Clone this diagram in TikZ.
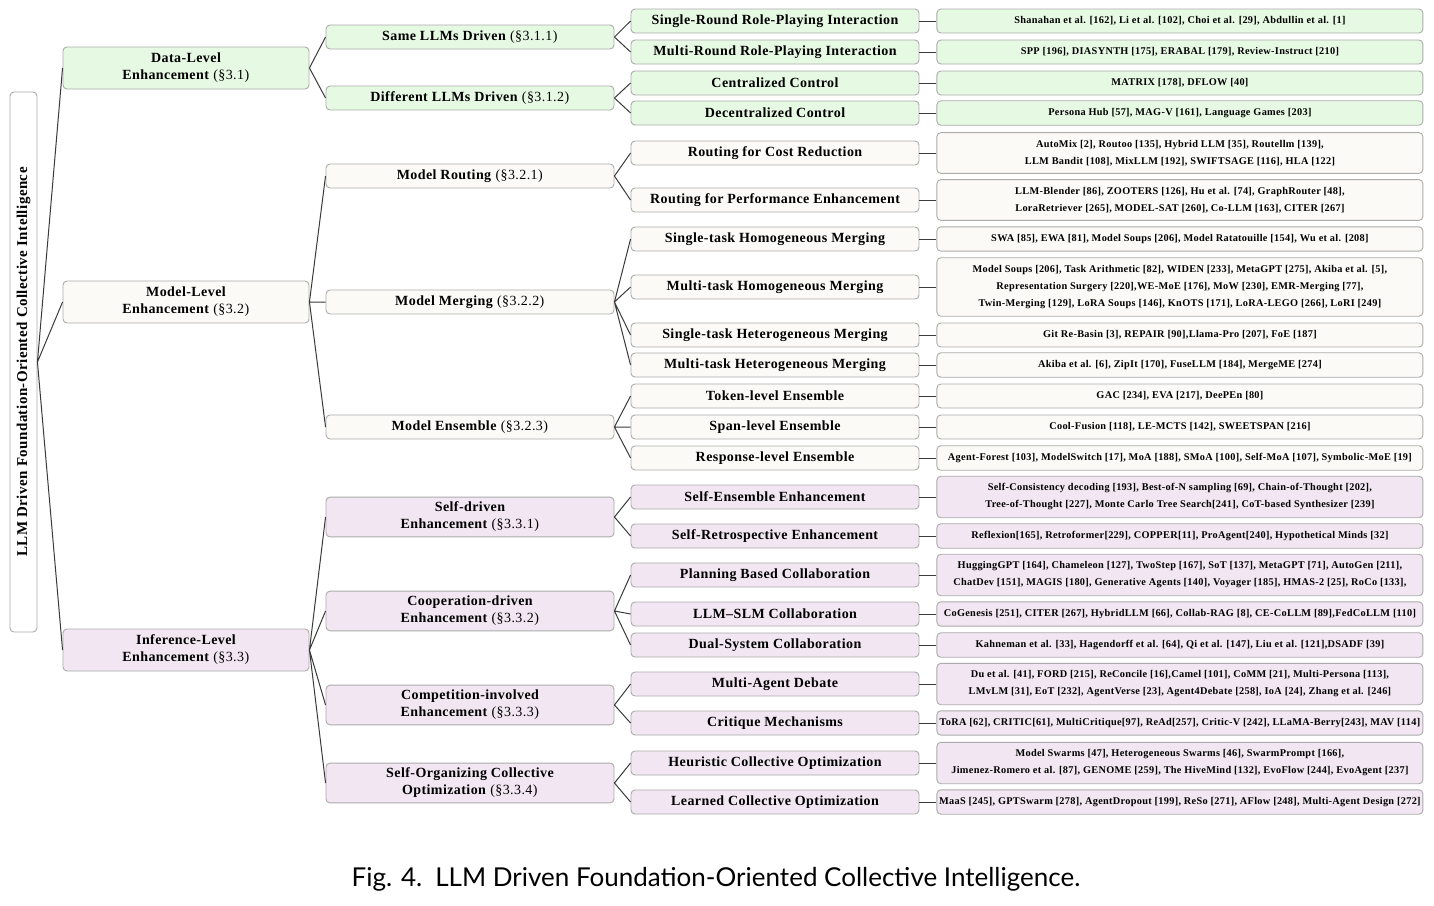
\documentclass[tikz,border=0pt]{standalone}
\usepackage{fontspec}
\setmainfont{Liberation Serif}[LetterSpace=3]
\newfontfamily\capfont{Lato}
\usepackage{graphicx}
\usepackage{tikz}
\usetikzlibrary{positioning}
\definecolor{datagreen}{HTML}{E6F9E3}
\definecolor{modelgray}{HTML}{FCFAF7}
\definecolor{infpurple}{HTML}{F1E6F1}
\definecolor{framegray}{HTML}{ABABAB}
\definecolor{linkgray}{HTML}{3A3A3A}
\newcommand{\secnum}[1]{\textmd{(\S#1)}}

\begin{document}
\begin{tikzpicture}[
      x=1pt, y=-1pt,
      node distance=17pt,
      base/.style={rectangle, rounded corners=4pt, draw=framegray, line width=0.9pt,
                   align=center, inner xsep=2pt, inner ysep=6pt},
      rootbox/.style={base, fill=white, minimum width=27pt, minimum height=540pt,
                      font=\fontsize{15}{17}\selectfont\bfseries},
      lvone/.style={base, minimum width=246pt, minimum height=42pt,
                    font=\fontsize{14}{17}\selectfont\bfseries},
      lvtwo/.style={base, minimum width=288pt, minimum height=24pt, inner ysep=5pt,
                    font=\fontsize{14}{17}\selectfont\bfseries},
      leaf/.style={base, minimum width=486pt, minimum height=24pt, inner ysep=7.5pt,
                   font=\fontsize{10.3}{17}\selectfont\bfseries},
      green/.style={fill=datagreen},
      plain/.style={fill=modelgray},
      purple/.style={fill=infpurple},
      link/.style={draw=linkgray, line width=1pt}
    ]
      \useasboundingbox (0,0) rectangle (1434,905);

      % root and the three levels
      \node[rootbox] (llm) at (23.5,362) {\rotatebox{90}{LLM Driven Foundation-Oriented Collective Intelligence}};
      \node[lvone, green] (data) at (186,68) {Data-Level\\Enhancement \secnum{3.1}};
      \node[lvone, plain] (model) at (186,302) {Model-Level\\Enhancement \secnum{3.2}};
      \node[lvone, purple] (infer) at (186,650) {Inference-Level\\Enhancement \secnum{3.3}};

      % second level
      \node[lvtwo, green] (same) at (470,37) {Same LLMs Driven \secnum{3.1.1}};
      \node[lvtwo, green] (diff) at (470,98) {Different LLMs Driven \secnum{3.1.2}};
      \node[lvtwo, plain] (routing) at (470,176) {Model Routing \secnum{3.2.1}};
      \node[lvtwo, plain] (merging) at (470,302) {Model Merging \secnum{3.2.2}};
      \node[lvtwo, plain] (ensemble) at (470,427) {Model Ensemble \secnum{3.2.3}};
      \node[lvtwo, purple] (selfdrv) at (470,517) {Self-driven\\Enhancement \secnum{3.3.1}};
      \node[lvtwo, purple] (coop) at (470,611) {Cooperation-driven\\Enhancement \secnum{3.3.2}};
      \node[lvtwo, purple] (compet) at (470,705) {Competition-involved\\Enhancement \secnum{3.3.3}};
      \node[lvtwo, purple] (selforg) at (470,783) {Self-Organizing Collective\\Optimization \secnum{3.3.4}};

      % third level
      \node[lvtwo, green] (srp) at (775,21) {Single-Round Role-Playing Interaction};
      \node[lvtwo, green] (mrp) at (775,52) {Multi-Round Role-Playing Interaction};
      \node[lvtwo, green] (cen) at (775,83) {Centralized Control};
      \node[lvtwo, green] (dec) at (775,113) {Decentralized Control};
      \node[lvtwo, plain] (cost) at (775,153) {Routing for Cost Reduction};
      \node[lvtwo, plain] (perf) at (775,200) {Routing for Performance Enhancement};
      \node[lvtwo, plain] (sthom) at (775,239) {Single-task Homogeneous Merging};
      \node[lvtwo, plain] (mthom) at (775,287) {Multi-task Homogeneous Merging};
      \node[lvtwo, plain] (sthet) at (775,335) {Single-task Heterogeneous Merging};
      \node[lvtwo, plain] (mthet) at (775,365) {Multi-task Heterogeneous Merging};
      \node[lvtwo, plain] (token) at (775,396) {Token-level Ensemble};
      \node[lvtwo, plain] (span) at (775,427) {Span-level Ensemble};
      \node[lvtwo, plain] (resp) at (775,458) {Response-level Ensemble};
      \node[lvtwo, purple] (selfens) at (775,497) {Self-Ensemble Enhancement};
      \node[lvtwo, purple] (selfret) at (775,536) {Self-Retrospective Enhancement};
      \node[lvtwo, purple] (plan) at (775,575) {Planning Based Collaboration};
      \node[lvtwo, purple] (llmslm) at (775,614) {LLM–SLM Collaboration};
      \node[lvtwo, purple] (dual) at (775,645) {Dual-System Collaboration};
      \node[lvtwo, purple] (debate) at (775,684) {Multi-Agent Debate};
      \node[lvtwo, purple] (critq) at (775,723) {Critique Mechanisms};
      \node[lvtwo, purple] (heur) at (775,763) {Heuristic Collective Optimization};
      \node[lvtwo, purple] (learn) at (775,802) {Learned Collective Optimization};

      % literature boxes
      \node[leaf, green, right=of srp] (srp-lit) {Shanahan et al. [162], Li et al. [102], Choi et al. [29], Abdullin et al. [1]};
      \node[leaf, green, right=of mrp] (mrp-lit) {SPP [196], DIASYNTH [175], ERABAL [179], Review-Instruct [210]};
      \node[leaf, green, right=of cen] (cen-lit) {MATRIX [178], DFLOW [40]};
      \node[leaf, green, right=of dec] (dec-lit) {Persona Hub [57], MAG-V [161], Language Games [203]};
      \node[leaf, plain, right=of cost] (cost-lit) {AutoMix [2], Routoo [135], Hybrid LLM [35], Routellm [139],\\LLM Bandit [108], MixLLM [192], SWIFTSAGE [116], HLA [122]};
      \node[leaf, plain, right=of perf] (perf-lit) {LLM-Blender [86], ZOOTERS [126], Hu et al. [74], GraphRouter [48],\\LoraRetriever [265], MODEL-SAT [260], Co-LLM [163], CITER [267]};
      \node[leaf, plain, right=of sthom] (sthom-lit) {SWA [85], EWA [81], Model Soups [206], Model Ratatouille [154], Wu et al. [208]};
      \node[leaf, plain, right=of mthom] (mthom-lit) {Model Soups [206], Task Arithmetic [82], WIDEN [233], MetaGPT [275], Akiba et al. [5],\\Representation Surgery [220],WE-MoE [176], MoW [230], EMR-Merging [77],\\Twin-Merging [129], LoRA Soups [146], KnOTS [171], LoRA-LEGO [266], LoRI [249]};
      \node[leaf, plain, right=of sthet] (sthet-lit) {Git Re-Basin [3], REPAIR [90],Llama-Pro [207], FoE [187]};
      \node[leaf, plain, right=of mthet] (mthet-lit) {Akiba et al. [6], ZipIt [170], FuseLLM [184], MergeME [274]};
      \node[leaf, plain, right=of token] (token-lit) {GAC [234], EVA [217], DeePEn [80]};
      \node[leaf, plain, right=of span] (span-lit) {Cool-Fusion [118], LE-MCTS [142], SWEETSPAN [216]};
      \node[leaf, plain, right=of resp] (resp-lit) {Agent-Forest [103], ModelSwitch [17], MoA [188], SMoA [100], Self-MoA [107], Symbolic-MoE [19]};
      \node[leaf, purple, right=of selfens] (selfens-lit) {Self-Consistency decoding [193], Best-of-N sampling [69], Chain-of-Thought [202],\\Tree-of-Thought [227], Monte Carlo Tree Search[241], CoT-based Synthesizer [239]};
      \node[leaf, purple, right=of selfret] (selfret-lit) {Reflexion[165], Retroformer[229], COPPER[11], ProAgent[240], Hypothetical Minds [32]};
      \node[leaf, purple, right=of plan] (plan-lit) {HuggingGPT [164], Chameleon [127], TwoStep [167], SoT [137], MetaGPT [71], AutoGen [211],\\ChatDev [151], MAGIS [180], Generative Agents [140], Voyager [185], HMAS-2 [25], RoCo [133],};
      \node[leaf, purple, right=of llmslm] (llmslm-lit) {CoGenesis [251], CITER [267], HybridLLM [66], Collab-RAG [8], CE-CoLLM [89],FedCoLLM [110]};
      \node[leaf, purple, right=of dual] (dual-lit) {Kahneman et al. [33], Hagendorff et al. [64], Qi et al. [147], Liu et al. [121],DSADF [39]};
      \node[leaf, purple, right=of debate] (debate-lit) {Du et al. [41], FORD [215], ReConcile [16],Camel [101], CoMM [21], Multi-Persona [113],\\LMvLM [31], EoT [232], AgentVerse [23], Agent4Debate [258], IoA [24], Zhang et al. [246]};
      \node[leaf, purple, right=of critq] (critq-lit) {ToRA [62], CRITIC[61], MultiCritique[97], ReAd[257], Critic-V [242], LLaMA-Berry[243], MAV [114]};
      \node[leaf, purple, right=of heur] (heur-lit) {Model Swarms [47], Heterogeneous Swarms [46], SwarmPrompt [166],\\Jimenez-Romero et al. [87], GENOME [259], The HiveMind [132], EvoFlow [244], EvoAgent [237]};
      \node[leaf, purple, right=of learn] (learn-lit) {MaaS [245], GPTSwarm [278], AgentDropout [199], ReSo [271], AFlow [248], Multi-Agent Design [272]};

      \node[font=\capfont\fontsize{26}{30}\selectfont] (cap) at (716,879) {Fig. 4.\enspace LLM Driven Foundation-Oriented Collective Intelligence.};

      % connectors
      \draw[link] (llm.east) -- (data.west) (llm.east) -- (model.west) (llm.east) -- (infer.west);
      \draw[link] (data.east) -- (same.west) (data.east) -- (diff.west);
      \draw[link] (model.east) -- (routing.west) (model.east) -- (merging.west) (model.east) -- (ensemble.west);
      \draw[link] (infer.east) -- (selfdrv.west) (infer.east) -- (coop.west) (infer.east) -- (compet.west) (infer.east) -- (selforg.west);
      \draw[link] (same.east) -- (srp.west) (same.east) -- (mrp.west);
      \draw[link] (diff.east) -- (cen.west) (diff.east) -- (dec.west);
      \draw[link] (routing.east) -- (cost.west) (routing.east) -- (perf.west);
      \draw[link] (merging.east) -- (sthom.west) (merging.east) -- (mthom.west) (merging.east) -- (sthet.west) (merging.east) -- (mthet.west);
      \draw[link] (ensemble.east) -- (token.west) (ensemble.east) -- (span.west) (ensemble.east) -- (resp.west);
      \draw[link] (selfdrv.east) -- (selfens.west) (selfdrv.east) -- (selfret.west);
      \draw[link] (coop.east) -- (plan.west) (coop.east) -- (llmslm.west) (coop.east) -- (dual.west);
      \draw[link] (compet.east) -- (debate.west) (compet.east) -- (critq.west);
      \draw[link] (selforg.east) -- (heur.west) (selforg.east) -- (learn.west);
      \draw[link] (srp) -- (srp-lit) (mrp) -- (mrp-lit) (cen) -- (cen-lit) (dec) -- (dec-lit);
      \draw[link] (cost) -- (cost-lit) (perf) -- (perf-lit) (sthom) -- (sthom-lit) (mthom) -- (mthom-lit);
      \draw[link] (sthet) -- (sthet-lit) (mthet) -- (mthet-lit) (token) -- (token-lit) (span) -- (span-lit) (resp) -- (resp-lit);
      \draw[link] (selfens) -- (selfens-lit) (selfret) -- (selfret-lit) (plan) -- (plan-lit) (llmslm) -- (llmslm-lit);
      \draw[link] (dual) -- (dual-lit) (debate) -- (debate-lit) (critq) -- (critq-lit) (heur) -- (heur-lit) (learn) -- (learn-lit);
    \end{tikzpicture}
\end{document}
